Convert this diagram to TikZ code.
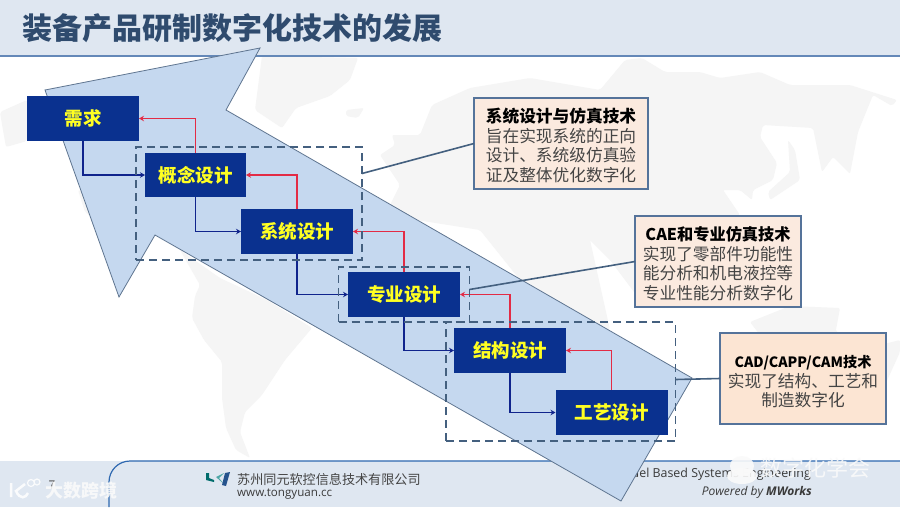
\documentclass[tikz,border=0pt]{standalone}
\usepackage{fontspec}
\setmainfont{Noto Sans CJK SC}
\newfontfamily\footfont{Open Sans}
\usepackage{xcolor}
\usetikzlibrary{positioning,arrows.meta,fit}
\definecolor{bandblue}{HTML}{DFE7F1}
\definecolor{bandline}{HTML}{6488B8}
\definecolor{footline}{HTML}{2E68B0}
\definecolor{titleink}{HTML}{2F4B6E}
\definecolor{mapgrey}{HTML}{F5F5F5}
\definecolor{arrowfill}{HTML}{C5D8EF}
\definecolor{arrowline}{HTML}{5F7590}
\definecolor{stageblue}{HTML}{0A318F}
\definecolor{stageink}{HTML}{FFFF22}
\definecolor{backred}{HTML}{E32B45}
\definecolor{nextblue}{HTML}{10248C}
\definecolor{groupline}{HTML}{44607F}
\definecolor{notefill}{HTML}{FBEADF}
\definecolor{notefillb}{HTML}{FCE5D3}
\definecolor{noteline}{HTML}{55739A}
\definecolor{noteink}{HTML}{444444}
\definecolor{markink}{HTML}{FAFAFA}
\newcommand{\notehead}[2][16.7]{\rule{0pt}{18.7pt}{\fontsize{#1}{19.6}\selectfont\bfseries\color{black}#2}}

\begin{document}
\begin{tikzpicture}[
      x=1pt, y=-1pt,
      stagebox/.style={fill=stageblue, text=stageink, font=\fontsize{18.5}{20}\selectfont\bfseries,
        inner sep=0pt, outer sep=0pt, minimum width=112pt, minimum height=45pt},
      notebox/.style={draw=noteline, line width=1.4pt, fill=notefill, text=noteink, align=center,
        inner sep=0pt, outer sep=0pt, minimum width=#1, minimum height=91pt,
        font=\fontsize{16.7}{19.6}\selectfont},
      notebox/.default=174pt,
      groupbox/.style={draw=groupline, line width=1.5pt, dash pattern=on 8pt off 5pt, outer sep=0pt},
      lead/.style={draw=groupline, line width=1.6pt},
      backarr/.style={-{Stealth[length=5pt,width=5.5pt]}, draw=backred, line width=1.2pt},
      nextarr/.style={-{Stealth[length=5pt,width=5.5pt]}, draw=nextblue, line width=1.2pt},
      land/.style={fill=mapgrey, rounded corners=2pt},
      mark text/.style={text=markink, opacity=0.9}]
    \useasboundingbox (0,0) rectangle (900,507);
    \fill[white] (0,0) rectangle (900,507);

    \fill[land] (0,112) -- (27,100) -- (27,141) -- (6,147) -- (3,130) -- cycle;
    \fill[land] (78,190) -- (95,195) -- (98,222) -- (85,212) -- cycle;
    \fill[land] (262,56) -- (358,58) -- (350,80) -- (330,96) -- (296,108) -- (282,128) -- (255,110) -- cycle;
    \fill[land] (346,110) -- (364,108) -- (358,118) -- (346,116) -- cycle;
    \fill[land] (180,250) -- (220,278) -- (267,300) -- (312,328) -- (285,360) -- (262,395) -- (245,412) -- (240,432) -- (250,458) -- (236,450) -- (226,428) -- (222,398) -- (222,362) -- (204,340) -- (192,318) -- (195,296) -- (200,285) -- cycle;
    \fill[land] (380,155) -- (395,145) -- (392,135) -- (420,135) -- (432,105) -- (470,88) -- (530,78) -- (600,90) -- (625,60) -- (642,58) -- (665,72) -- (700,72) -- (720,78) -- (760,72) -- (790,85) -- (850,85) -- (897,100) -- (892,106) -- (873,95) -- (858,132) -- (850,174) -- (833,157) -- (822,172) -- (813,128) -- (763,125) -- (760,137) -- (777,163) -- (773,180) -- (753,190) -- (752,200) -- (740,190) -- (723,190) -- (740,215) -- (700,300) -- (640,300) -- (610,260) -- (590,240) -- (610,330) -- (560,330) -- (480,230) -- (385,215) -- (400,185) -- cycle;
    \fill[land] (788,140) -- (795,150) -- (800,180) -- (770,200) -- (768,192) -- (790,172) -- cycle;
    \fill[land] (750,322) -- (790,306) -- (840,308) -- (835,335) -- (760,335) -- cycle;
    \fill[land] (815,312) -- (838,332) -- (820,345) -- (800,330) -- cycle;
    \fill[land] (880,345) -- (900,340) -- (900,352) -- (885,385) -- (880,370) -- cycle;

    \fill[bandblue] (0,0) rectangle (900,56);
    \draw[bandline, line width=1.2pt] (0,56) -- (900,56);
    \node[anchor=west, text=titleink, inner sep=0pt, font=\fontsize{30}{32}\selectfont\bfseries] (title) at (22,28) {装备产品研制数字化技术的发展};

    \fill[bandblue] (0,461) rectangle (900,507);
    \draw[footline, line width=1.2pt] (109,507) -- (109,482) arc[start angle=180, end angle=270, radius=21] -- (900,461);
    \node[anchor=center, text=noteink, font=\fontsize{12}{14}\selectfont] (pagenum) at (52,485) {7};
    \fill[teal!85!black] (206,473) -- (209,473) -- (209,478) -- (214,480) -- (214,482) -- (206,480) -- cycle;
    \fill[teal!70!white] (216,477) -- (224,473) -- (219,478) -- (224,484) -- cycle;
    \fill[footline!80!black] (225,473) -- (230,472) -- (226,486) -- (222,485) -- cycle;
    \node[anchor=west, text=noteink, inner sep=0pt, font=\fontsize{13.1}{15}\selectfont] (company) at (237,479) {苏州同元软控信息技术有限公司};
    \node[anchor=west, text=noteink!85!black, inner sep=0pt, font=\footfont\fontsize{11.6}{13}\selectfont] (site) at (237,494) {www.tongyuan.cc};
    \node[anchor=east, text=noteink!85!black, inner sep=0pt, font=\footfont\fontsize{12.4}{14}\selectfont] (mbse) at (811,474) {Model Based Systems Engineering};
    \node[anchor=east, text=noteink!85!black, inner sep=0pt, font=\footfont\fontsize{12}{13}\selectfont\itshape] (powered) at (812,492) {Powered by \textbf{MWorks}};

    \fill[arrowfill] (45,90) -- (260,48) -- (226,110) -- (692,378) -- (621,501) -- (155,235) -- (119,297) -- cycle;
    \draw[arrowline, line width=0.8pt] (45,90) -- (260,48) -- (226,110) -- (692,378) -- (621,501) -- (155,235) -- (119,297) -- cycle;

    \node[stagebox] (req) at (83,118.5) {需求};
    \node[stagebox, minimum width=101pt, minimum height=44pt, below right=12pt and 6pt of req] (concept) {概念设计};
    \node[stagebox, below right=12pt and -5pt of concept] (system) {系统设计};
    \node[stagebox, below right=18pt and -5pt of system] (spec) {专业设计};
    \node[stagebox, below right=11pt and -6pt of spec] (struct) {结构设计};
    \node[stagebox, below right=17pt and -10.5pt of struct] (craft) {工艺设计};

    \draw[backarr] (concept.north) |- (req.east);
    \draw[backarr] (system.north) |- (concept.east);
    \draw[backarr] (spec.north) |- (system.east);
    \draw[backarr] (struct.north) |- (spec.east);
    \draw[backarr] (craft.north) |- (struct.east);
    \draw[nextarr] (req.south) |- (concept.west);
    \draw[nextarr] (concept.south) |- (system.west);
    \draw[nextarr] (system.south) |- (spec.west);
    \draw[nextarr] (spec.south) |- (struct.west);
    \draw[nextarr] (struct.south) |- (craft.west);

    \node[groupbox, fit=(concept)(system), inner xsep=9pt, inner ysep=6pt] (groupa) {};
    \node[groupbox, fit=(spec), inner xsep=9.5pt, inner ysep=5pt] (groupb) {};
    \node[groupbox, fit=(struct)(craft), inner xsep=8pt, inner ysep=6pt] (groupc) {};

    \node[notebox] (notea) at (561,143.5) {\notehead{系统设计与仿真技术}\\旨在实现系统的正向\\设计、系统级仿真验\\证及整体优化数字化};
    \node[notebox=166pt, below right=27pt and -13pt of notea] (noteb) {\notehead[16.2]{CAE和专业仿真技术}\\实现了零部件功能性\\能分析和机电液控等\\专业性能分析数字化};
    \node[notebox=166pt, fill=notefillb, below right=26pt and -81pt of noteb] (notec) {\notehead[14.2]{CAD/CAPP/CAM技术}\\实现了结构、工艺和\\制造数字化};

    \draw[lead] ([yshift=30pt]groupa.east) -- (notea.west);
    \draw[lead] ([yshift=5pt]groupb.east) -- (noteb.west);
    \draw[lead] ([yshift=2pt]groupc.east) -- (notec.west);

    \node[mark text, font=\fontsize{18}{20}\selectfont\bfseries, inner sep=0pt] (markleft) at (81,491) {大数跨境};
    \node[mark text, font=\fontsize{22}{24}\selectfont, inner sep=0pt] (markright) at (815,468) {数字化学会};
    \fill[markink, opacity=0.9] (742,466) ellipse[x radius=12, y radius=10];
    \fill[markink, opacity=0.9] (742,476) ellipse[x radius=15, y radius=8];
    \draw[white, opacity=0.85, line width=2.5pt] (11,483) -- (11,497) (25,484) -- (16,491) .. controls (20,500) and (26,498) .. (28,493);
    \draw[white, opacity=0.85, line width=1.2pt] (31,483) circle[radius=3.5] (37,482) circle[radius=3];
\end{tikzpicture}
\end{document}
